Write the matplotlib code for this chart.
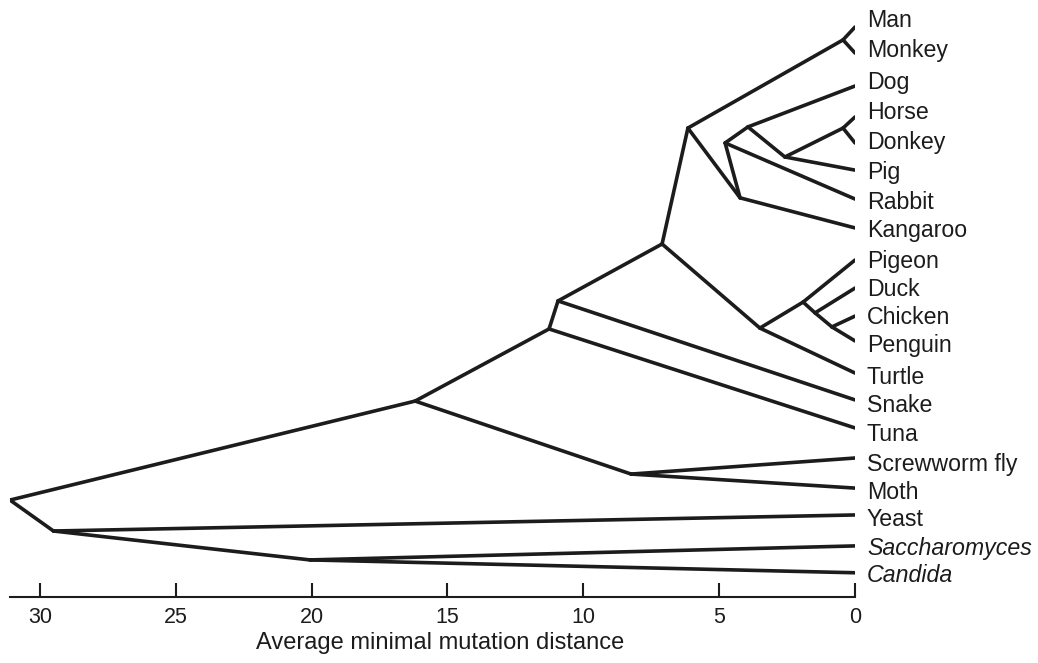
import matplotlib.pyplot as plt

# leaves, top to bottom
leaves = ["Man", "Monkey", "Dog", "Horse", "Donkey", "Pig", "Rabbit", "Kangaroo",
          "Pigeon", "Duck", "Chicken", "Penguin", "Turtle", "Snake", "Tuna",
          "Screwworm fly", "Moth", "Yeast", "Saccharomyces", "Candida"]
italic_leaves = ["Saccharomyces", "Candida"]
# row where each branch tip ends, and row of each label
tip_rows = [0.31, 1.20, 2.33, 3.39, 4.28, 5.21, 6.20, 7.19,
            8.29, 9.25, 10.21, 11.06, 12.16, 13.08, 14.04,
            15.07, 16.10, 17.02, 18.08, 19.0]
label_rows = [0.0, 1.03, 2.12, 3.15, 4.18, 5.21, 6.23, 7.19,
              8.25, 9.21, 10.17, 11.13, 12.23, 13.18, 14.18,
              15.21, 16.16, 17.09, 18.08, 19.0]

# internal nodes: name -> (distance, row)
node_names = ["root", "fungi", "yeasts", "animals", "insects", "vert", "tetra",
              "amniotes", "reptbird", "birds", "birds2", "birds3", "mammals",
              "primates", "euth", "placental", "ungul", "pigung", "equids"]
node_dist = [31.1, 29.5, 20.06, 16.19, 8.24, 11.26, 10.93,
             7.10, 3.50, 1.91, 1.47, 0.85, 6.15,
             0.44, 4.23, 4.78, 3.94, 2.58, 0.44]
node_rows = [16.51, 17.57, 18.56, 13.12, 15.62, 10.65, 9.69,
             7.74, 10.62, 9.73, 10.10, 10.58, 3.77,
             0.75, 6.16, 4.28, 3.73, 4.76, 3.77]

edges = [("root", "animals"), ("root", "fungi"),
         ("fungi", "Yeast"), ("fungi", "yeasts"),
         ("yeasts", "Saccharomyces"), ("yeasts", "Candida"),
         ("animals", "vert"), ("animals", "insects"),
         ("insects", "Screwworm fly"), ("insects", "Moth"),
         ("vert", "tetra"), ("vert", "Tuna"),
         ("tetra", "amniotes"), ("tetra", "Snake"),
         ("amniotes", "mammals"), ("amniotes", "reptbird"),
         ("reptbird", "Turtle"), ("reptbird", "birds"),
         ("birds", "Pigeon"), ("birds", "birds2"),
         ("birds2", "Duck"), ("birds2", "birds3"),
         ("birds3", "Chicken"), ("birds3", "Penguin"),
         ("mammals", "primates"), ("mammals", "euth"),
         ("primates", "Man"), ("primates", "Monkey"),
         ("euth", "Kangaroo"), ("euth", "placental"),
         ("placental", "Rabbit"), ("placental", "ungul"),
         ("ungul", "Dog"), ("ungul", "pigung"),
         ("pigung", "Pig"), ("pigung", "equids"),
         ("equids", "Horse"), ("equids", "Donkey")]

ticks = [30, 25, 20, 15, 10, 5, 0]

pos = {n: (d, r) for n, d, r in zip(node_names, node_dist, node_rows)}
for n, r in zip(leaves, tip_rows):
    pos[n] = (0.0, r)

plt.rcParams['font.family'] = ['Liberation Sans', 'DejaVu Sans']
ink = "#1c1c1c"

fig = plt.figure(figsize=(10.38, 6.63), dpi=100)
ax = fig.add_axes([10 / 1038, 66 / 663, 845 / 1038, 597 / 663])

for a, b in edges:
    (x0, y0), (x1, y1) = pos[a], pos[b]
    ax.plot([x0, x1], [y0, y1], color=ink, lw=2.6, solid_capstyle='round',
            solid_joinstyle='round')

for name, r in zip(leaves, label_rows):
    style = 'italic' if name in italic_leaves else 'normal'
    ax.text(-0.44, r, name, fontsize=16.7, style=style, color=ink,
            ha='left', va='center_baseline', clip_on=False)

ax.set_xlim(31.1, 0)
ax.set_ylim(19.83, -0.616)
for s in ['top', 'right', 'left']:
    ax.spines[s].set_visible(False)
ax.spines['bottom'].set_linewidth(1.5)
ax.spines['bottom'].set_color(ink)
ax.set_yticks([])
ax.set_xticks(ticks)
ax.set_xticklabels([str(t) for t in ticks])
ax.tick_params(axis='x', direction='in', length=10, width=1.5, color=ink,
               labelsize=15.5, labelcolor=ink, pad=7)
ax.set_xlabel("Average minimal mutation distance", fontsize=17, color=ink, va='center')
ax.xaxis.set_label_coords(0.509, -0.077)

fig.savefig("out.png", dpi=100, facecolor='white')
